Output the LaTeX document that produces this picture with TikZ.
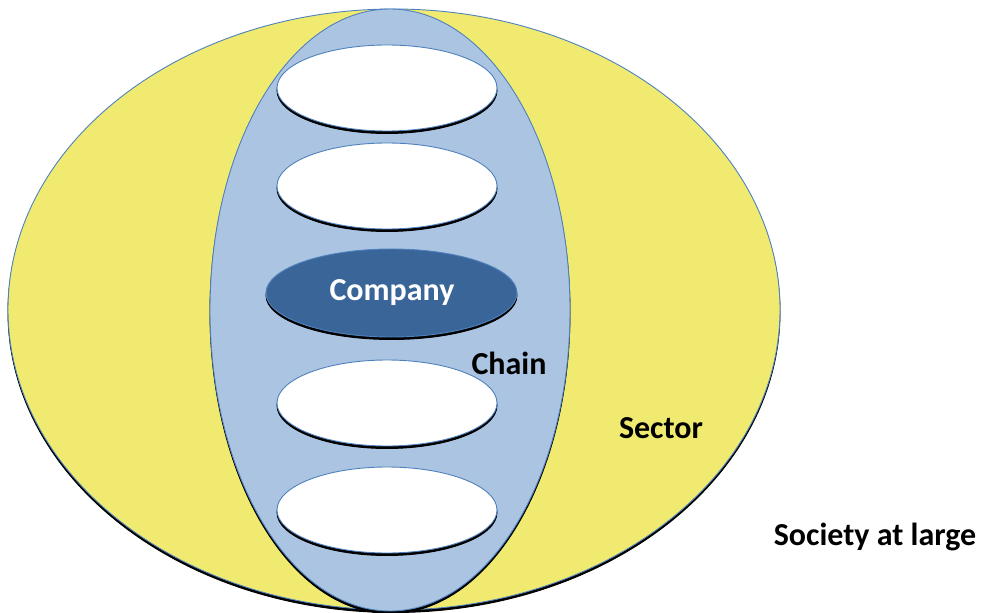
\documentclass[tikz,border=0pt]{standalone}
\usepackage{fontspec}
\setmainfont{Carlito}
\usetikzlibrary{shapes.geometric}
\definecolor{sectfill}{RGB}{240,235,112}
\definecolor{chainfill}{RGB}{170,196,225}
\definecolor{compfill}{RGB}{58,101,152}
\definecolor{edgeblue}{RGB}{79,129,189}
\tikzset{
  oval/.style={ellipse, inner sep=0pt, draw=edgeblue, line width=0.9pt,
    preaction={fill=black, draw=black, transform canvas={yshift=-2.5pt}}},
  lbl/.style={font=\fontsize{32}{38}\selectfont\bfseries, inner sep=0pt}
}
\begin{document}
\begin{tikzpicture}[x=1pt,y=-1pt]
\useasboundingbox (0,0) rectangle (983,613);
\node[oval, fill=sectfill, minimum width=772pt, minimum height=601pt] (sector) at (394,309.5) {};
\node[oval, fill=chainfill, minimum width=360pt, minimum height=602pt] (chain) at (390,310) {};
\node[oval, fill=white, minimum width=220pt, minimum height=86pt] (w1) at (387,88) {};
\node[oval, fill=white, minimum width=220pt, minimum height=86pt] (w2) at (387,186) {};
\node[oval, fill=compfill, minimum width=251pt, minimum height=88pt] (comp) at (391.5,293) {};
\node[oval, fill=white, minimum width=220pt, minimum height=86pt] (w4) at (387,403) {};
\node[oval, fill=white, minimum width=220pt, minimum height=86pt] (w5) at (387,510) {};
\node[lbl, text=white] (complbl) at (392,293) {Company};
\node[lbl] (chainlbl) at (509,363) {Chain};
\node[lbl] (sectlbl) at (661,428) {Sector};
\node[lbl] (soclbl) at (875,537) {Society at large};
\end{tikzpicture}
\end{document}
